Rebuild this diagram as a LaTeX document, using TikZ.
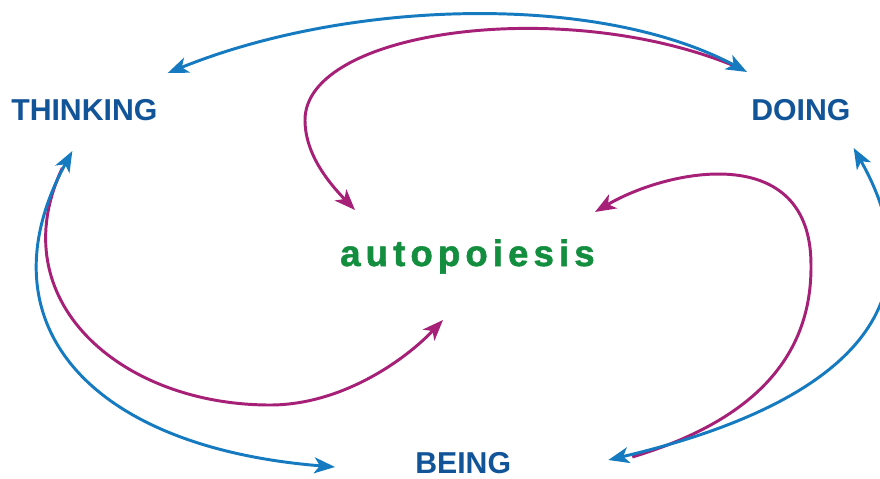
\documentclass[tikz,border=0pt]{standalone}
\usepackage{fontspec}
\setmainfont{Liberation Sans}
\usepackage{tikz}
\usetikzlibrary{arrows.meta,positioning}
\definecolor{modeblue}{RGB}{18,84,152}
\definecolor{loopblue}{RGB}{22,122,192}
\definecolor{selfpink}{RGB}{166,32,120}
\definecolor{coregreen}{RGB}{18,142,62}
\tikzset{
  modelabel/.style={anchor=base west, inner sep=0pt, text=modeblue,
    font=\fontsize{21.5}{24}\selectfont\bfseries},
  corelabel/.style={anchor=base west, inner sep=0pt, text=coregreen,
    font=\fontsize{26}{28}\selectfont\bfseries\addfontfeature{LetterSpace=14,FakeBold=1.5}},
  % arrow "lanes"
  loopflow/.style={{Stealth[length=5.2mm,width=4mm,inset=1.4mm]}-{Stealth[length=5.2mm,width=4mm,inset=1.4mm]},
    loopblue, line width=2.1pt},
  selfflow/.style={-{Stealth[length=5.2mm,width=4mm,inset=1.4mm]}, selfpink, line width=2.1pt},
}

\begin{document}
\begin{tikzpicture}[x=0.025cm,y=-0.025cm]
\useasboundingbox (0,0) rectangle (880,479);
\clip (0,0) rectangle (880,479);
\fill[white] (0,0) rectangle (880,479);

% ---------- labels ----------
\node[modelabel] (thinking) at (11,120) {THINKING};
\node[modelabel] (doing)    at (751,120) {DOING};
\node[modelabel] (being)    at (415,473) {BEING};
\node[corelabel] (auto)     at (340,266) {autopoiesis};

% ---------- mode -> autopoiesis (magenta) ----------
\draw[selfflow] ([shift={(-14,-53)}]doing.base west)
  .. controls +(-172,-72) and +(0,-90) .. (305,120)
  .. controls +(0,35) and +(-25,-26) .. ([shift={(15,-56)}]auto.base west);
\draw[selfflow] ([shift={(-22,48)}]thinking.base)
  .. controls +(-62,132) and +(-150,0) .. (270,405)
  .. controls +(70,0) and +(-40,42) .. ([shift={(103,54)}]auto.base west);
\draw[selfflow] ([shift={(121,-16)}]being.base east)
  .. controls +(103,-31) and +(1,105) .. (811,265)
  .. controls +(0,-125) and +(73,-43) .. ([shift={(255,-54)}]auto.base west);

% ---------- mode <-> mode (blue) ----------
\draw[loopflow] ([shift={(10,-47)}]thinking.base east)
  .. controls +(180,-73) and +(-150,-80) .. ([shift={(-4,-48)}]doing.base west);
\draw[loopflow] ([shift={(-12,31)}]thinking.base)
  .. controls +(-92,169) and +(-250,-20) .. ([shift={(-80,-6)}]being.base west);
\draw[loopflow] ([shift={(3,28)}]doing.base east)
  .. controls +(97,172) and +(212,-50) .. ([shift={(97,-13)}]being.base east);

\end{tikzpicture}
\end{document}
